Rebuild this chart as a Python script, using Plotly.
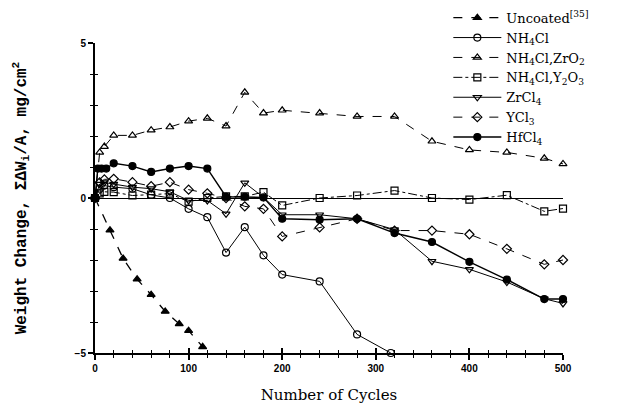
import plotly.graph_objects as go

# ---- data ----
unc_x = [0, 16, 30, 45, 60, 75, 90, 100, 115]
unc_y = [0, -1.04, -1.95, -2.62, -3.12, -3.66, -4.06, -4.28, -4.80]

nh4_x = [0, 5, 10, 20, 40, 60, 80, 100, 120, 140, 160, 180, 200, 240, 280, 316]
nh4_y = [0, 0.3, 0.4, 0.35, 0.3, 0.1, 0.0, -0.35, -0.62, -1.76, -0.94, -1.85, -2.47, -2.69, -4.4, -5.0]

zro_x = [0, 5, 10, 20, 40, 60, 80, 100, 120, 140, 160, 180, 200, 240, 280, 320, 360, 400, 440, 480, 500]
zro_y = [0, 1.47, 1.66, 2.02, 2.02, 2.19, 2.29, 2.48, 2.57, 2.32, 3.41, 2.74, 2.83, 2.74, 2.63, 2.63, 1.83, 1.55, 1.47, 1.28, 1.10]

y2o_x = [0, 5, 10, 20, 40, 60, 80, 100, 120, 140, 160, 180, 200, 240, 280, 320, 360, 400, 440, 480, 500]
y2o_y = [0, 0.15, 0.2, 0.19, 0.08, 0.11, 0.14, -0.12, 0.0, 0.05, 0.05, 0.19, -0.24, 0.0, 0.08, 0.24, 0.0, -0.05, 0.09, -0.43, -0.34]

zrc_x = [0, 5, 10, 20, 40, 60, 80, 100, 120, 140, 160, 180, 200, 240, 280, 320, 360, 400, 440, 480, 500]
zrc_y = [0, 0.45, 0.5, 0.45, 0.35, 0.3, 0.2, -0.08, -0.08, -0.51, 0.49, 0.02, -0.54, -0.54, -0.67, -1.02, -2.04, -2.3, -2.71, -3.25, -3.4]

ycl_x = [0, 5, 10, 20, 40, 60, 80, 100, 120, 140, 160, 180, 200, 240, 280, 320, 360, 400, 440, 480, 500]
ycl_y = [0, 0.5, 0.6, 0.62, 0.51, 0.38, 0.51, 0.27, 0.15, 0.0, -0.27, -0.35, -1.24, -0.95, -0.67, -1.05, -1.05, -1.17, -1.64, -2.14, -2.0]

hf_x = [0, 3, 7, 12, 20, 40, 60, 80, 100, 120, 140, 160, 180, 200, 240, 280, 320, 360, 400, 440, 480, 500]
hf_y = [0, 0.95, 0.95, 0.95, 1.12, 1.03, 0.84, 0.95, 1.03, 0.95, 0.04, 0.04, 0.02, -0.67, -0.70, -0.67, -1.13, -1.42, -2.06, -2.63, -3.26, -3.26]

x_ticks = [0, 100, 200, 300, 400, 500]
y_ticks = [-5, 0, 5]

series = [
    ("Uncoated<sup>[35]</sup>", unc_x, unc_y, "triangle-up", "dash", 1.3),
    ("NH<sub>4</sub>Cl", nh4_x, nh4_y, "circle-open", "solid", 1.0),
    ("NH<sub>4</sub>Cl,ZrO<sub>2</sub>", zro_x, zro_y, "triangle-up-open", "dash", 1.0),
    ("NH<sub>4</sub>Cl,Y<sub>2</sub>O<sub>3</sub>", y2o_x, y2o_y, "square-open", "dashdot", 1.0),
    ("ZrCl<sub>4</sub>", zrc_x, zrc_y, "triangle-down-open", "solid", 1.0),
    ("YCl<sub>3</sub>", ycl_x, ycl_y, "diamond-open", "dash", 1.0),
    ("HfCl<sub>4</sub>", hf_x, hf_y, "circle", "solid", 1.4),
]

fig = go.Figure()
for name, xs, ys, sym, dash, w in series:
    fig.add_trace(go.Scatter(
        x=xs, y=ys, name=name, mode="lines+markers", cliponaxis=False,
        line=dict(color="black", width=w, dash=dash),
        marker=dict(symbol=sym, size=7, color="black", line=dict(color="black", width=1.2)),
    ))

# invisible trace on overlay axes to draw inward tick marks (cross-style ticks)
fig.add_trace(go.Scatter(x=[0, 500], y=[-5, 5], xaxis="x2", yaxis="y2",
                         mode="markers", marker=dict(opacity=0), showlegend=False,
                         hoverinfo="skip"))

tickfont = dict(family="Liberation Sans", size=10, color="black", weight="bold")
fig.update_layout(
    width=627, height=409,
    margin=dict(l=95, r=64, t=43, b=56, autoexpand=False),
    paper_bgcolor="white", plot_bgcolor="white",
    showlegend=True,
    legend=dict(x=0.755, y=1.13, xanchor="left", yanchor="top",
                font=dict(family="DejaVu Serif", size=13, color="black"),
                bgcolor="rgba(0,0,0,0)", itemwidth=48, tracegroupgap=0),
    xaxis=dict(range=[0, 500], tickvals=x_ticks, ticks="outside", ticklen=5,
               tickwidth=1.5, tickcolor="black", showline=True, linecolor="black",
               linewidth=2, showgrid=False, zeroline=False, tickfont=tickfont,
               automargin=False,
               minor=dict(dtick=20, ticks="outside", ticklen=3, tickcolor="black", tickwidth=1.2),
               title=dict(text="Number of Cycles", font=dict(family="DejaVu Serif", size=15, color="black"), standoff=16)),
    yaxis=dict(range=[-5, 5], tickvals=y_ticks, ticks="outside", ticklen=5,
               tickwidth=1.5, tickcolor="black", showline=True, linecolor="black",
               linewidth=2, showgrid=False, zeroline=True, zerolinecolor="black",
               zerolinewidth=1, tickfont=tickfont, automargin=False,
               minor=dict(dtick=1, ticks="outside", ticklen=3, tickcolor="black", tickwidth=1.2),
               title=dict(text="Weight Change, \u03a3\u0394W<sub>i</sub>/A, mg/cm<sup>2</sup>",
                          font=dict(family="Liberation Mono", size=16, color="black", weight="bold"), standoff=44)),
    xaxis2=dict(range=[0, 500], overlaying="x", anchor="y2", tickvals=x_ticks, ticks="inside",
                ticklen=5, tickwidth=1.5, tickcolor="black", showticklabels=False,
                showgrid=False, zeroline=False, showline=False,
                minor=dict(dtick=20, ticks="inside", ticklen=3, tickcolor="black", tickwidth=1.2)),
    yaxis2=dict(range=[-5, 5], overlaying="y", anchor="x2", tickvals=y_ticks, ticks="inside",
                ticklen=5, tickwidth=1.5, tickcolor="black", showticklabels=False,
                showgrid=False, zeroline=False, showline=False,
                minor=dict(dtick=1, ticks="inside", ticklen=3, tickcolor="black", tickwidth=1.2)),
)

fig.write_html("out.html")
